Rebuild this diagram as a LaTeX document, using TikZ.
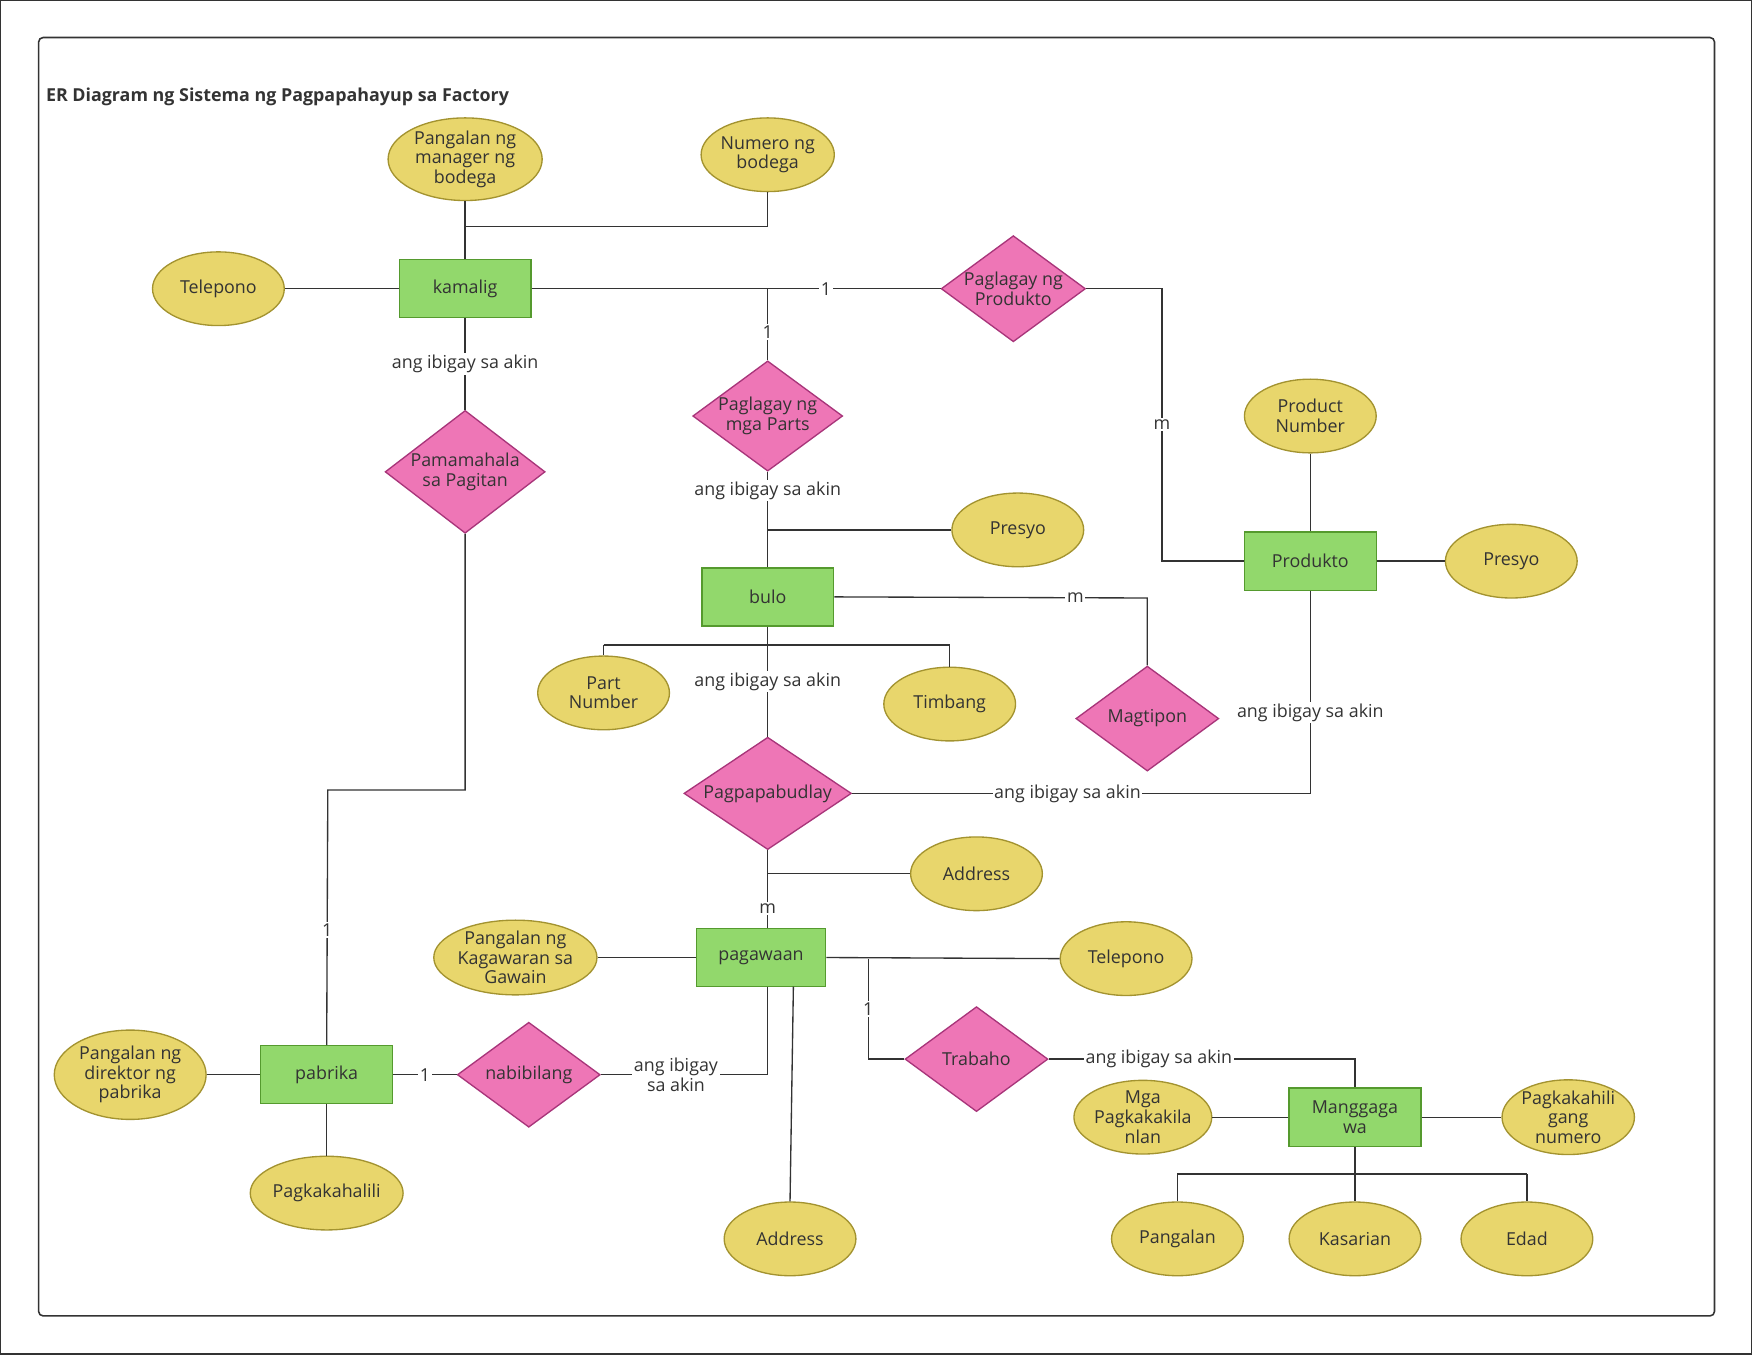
\documentclass[tikz,border=0pt]{standalone}
\usepackage{fontspec}
\setmainfont{Open Sans}
\usetikzlibrary{shapes.geometric,calc}
\definecolor{gf}{HTML}{92D86C}\definecolor{gd}{HTML}{559A2E}
\definecolor{pf}{HTML}{EE76B6}\definecolor{pd}{HTML}{A8357A}
\definecolor{yf}{HTML}{E8D66C}\definecolor{yd}{HTML}{A39330}
\definecolor{ln}{HTML}{333333}
\begin{document}
\begin{tikzpicture}[x=1pt,y=-1pt,
 every node/.style={font=\fontsize{16}{17.5}\selectfont,text=ln,align=center,inner sep=0pt},
 ent/.style={draw=gd,fill=gf,line width=1.2pt,minimum width=118pt,minimum height=52pt},
 rel/.style={draw=pd,fill=pf,line width=1.2pt,diamond,aspect=1.36,minimum width=128pt,minimum height=94pt},
 att/.style={draw=yd,fill=yf,line width=1.2pt,ellipse,minimum width=118pt,minimum height=66pt},
 lab/.style={fill=white,inner sep=1.5pt},
 every path/.style={draw=ln,line width=1.2pt}]
\useasboundingbox (0,0) rectangle (1568,1212);
\draw[rounded corners=4pt,line width=1.4pt] (34,33) rectangle (1535,1178);
\node[anchor=west,font=\bfseries\fontsize{16}{18}\selectfont] (title) at (40,86) {ER Diagram ng Sistema ng Pagpapahayup sa Factory};
% nodes
\node[att,minimum width=138pt,minimum height=74pt] (man) at (416,142) {Pangalan ng\\manager ng\\bodega};
\node[att] (num) at (687,138) {Numero ng\\bodega};
\node[att] (tel) at (195,258) {Telepono};
\node[ent] (kam) at (416,258) {kamalig};
\node[rel] (pp) at (907,258) {Paglagay ng\\Produkto};
\node[rel] (pm) at (687,372) {Paglagay ng\\mga Parts};
\node[rel,minimum width=138pt,minimum height=110pt] (pam) at (416,422) {Pamamahala\\sa Pagitan};
\node[att] (pre) at (911,474) {Presyo};
\node[ent] (bulo) at (687,534) {bulo};
\node[att] (pn) at (1173,372) {Product\\Number};
\node[ent] (prod) at (1173,502) {Produkto};
\node[att] (pre2) at (1353,502) {Presyo};
\node[att] (part) at (540,620) {Part\\Number};
\node[att] (tim) at (850,630) {Timbang};
\node[rel] (mag) at (1027,643) {Magtipon};
\node[rel,minimum width=150pt] (pag) at (687,710) {Pagpapabudlay};
\node[att] (addr) at (874,782) {Address};
\node[ent,minimum width=116pt] (pgw) at (681,857) {pagawaan};
\node[att,minimum width=140pt] (kag) at (461,857) {Pangalan ng\\Kagawaran sa\\Gawain};
\node[att] (tel2) at (1008,858) {Telepono};
\node[ent] (pab) at (292,962) {pabrika};
\node[att,minimum width=136pt,minimum height=80pt] (dir) at (116,962) {Pangalan ng\\direktor ng\\pabrika};
\node[att,minimum width=130pt] (pgh) at (292,1068) {Pagkakahalili};
\node[rel] (nab) at (473,962) {nabibilang};
\node[att] (addr2) at (707,1109) {Address};
\node[rel] (tra) at (874,948) {Trabaho};
\node[ent] (mgw) at (1213,1000) {Manggaga\\wa};
\node[att] (mpk) at (1023,1000) {Mga\\Pagkakakila\\nlan};
\node[att] (pgn) at (1404,1000) {Pagkakahili\\gang\\numero};
\node[att] (pgl) at (1054,1109) {Pangalan};
\node[att] (kas) at (1213,1109) {Kasarian};
\node[att] (eda) at (1367,1109) {Edad};
% edges
\draw (man.south) -- (kam.north);
\draw (num.south) |- (416,202);
\draw (tel) -- (kam);
\draw (kam.east) -- node[lab,pos=0.72]{1} (pp.west);
\draw (687,258) -- node[lab,pos=0.6]{1} (pm.north);
\draw (pp.east) -- (1040,258) -- node[lab]{m} (1040,502) -- (prod.west);
\draw (kam.south) -- node[lab,pos=0.5]{ang ibigay sa akin} (pam.north);
\draw (pam.south) -- (416,707) -- (293,707) -- node[lab,pos=0.55]{1} (pab.north);
\draw (pm.south) -- node[lab,pos=0.2]{ang ibigay sa akin} (bulo.north);
\draw (pre.west) -- (687,474);
\draw (pn) -- (prod); \draw (prod) -- (pre2);
\draw (bulo.east) -- node[lab,pos=0.77]{m} (1027,535) -- (mag.north);
\draw (540,577) -- (850,577); \draw (540,577) -- (part.north); \draw (850,577) -- (tim.north);
\draw (bulo.south) -- node[lab,pos=0.5]{ang ibigay sa akin} (pag.north);
\draw (prod.south) -- node[lab,pos=0.6]{ang ibigay sa akin} (1173,710) -- node[lab,pos=0.53]{ang ibigay sa akin} (pag.east);
\draw (pag.south) -- node[lab,pos=0.75]{m} (687,831);
\draw (addr.west) -- (687,782);
\draw (kag) -- (pgw);
\draw (pgw.east) -- (tel2.west);
\draw (777,858) -- node[lab]{1} (777,948) -- (tra.west);
\draw (tra.east) -- node[lab,pos=0.36]{ang ibigay sa akin} (1213,948) -- (mgw.north);
\draw (687,883) -- (687,962) -- node[lab,pos=0.55]{ang ibigay\\sa akin} (nab.east);
\draw (710,883) -- (addr2.north);
\draw (pab.east) -- node[lab]{1} (nab.west);
\draw (dir) -- (pab); \draw (pab) -- (pgh);
\draw (mpk) -- (mgw); \draw (mgw) -- (pgn);
\draw (mgw.south) -- (1213,1051); \draw (1054,1051) -- (1367,1051);
\draw (1054,1051) -- (pgl.north); \draw (1213,1051) -- (kas.north); \draw (1367,1051) -- (eda.north);
\end{tikzpicture}
\end{document}
